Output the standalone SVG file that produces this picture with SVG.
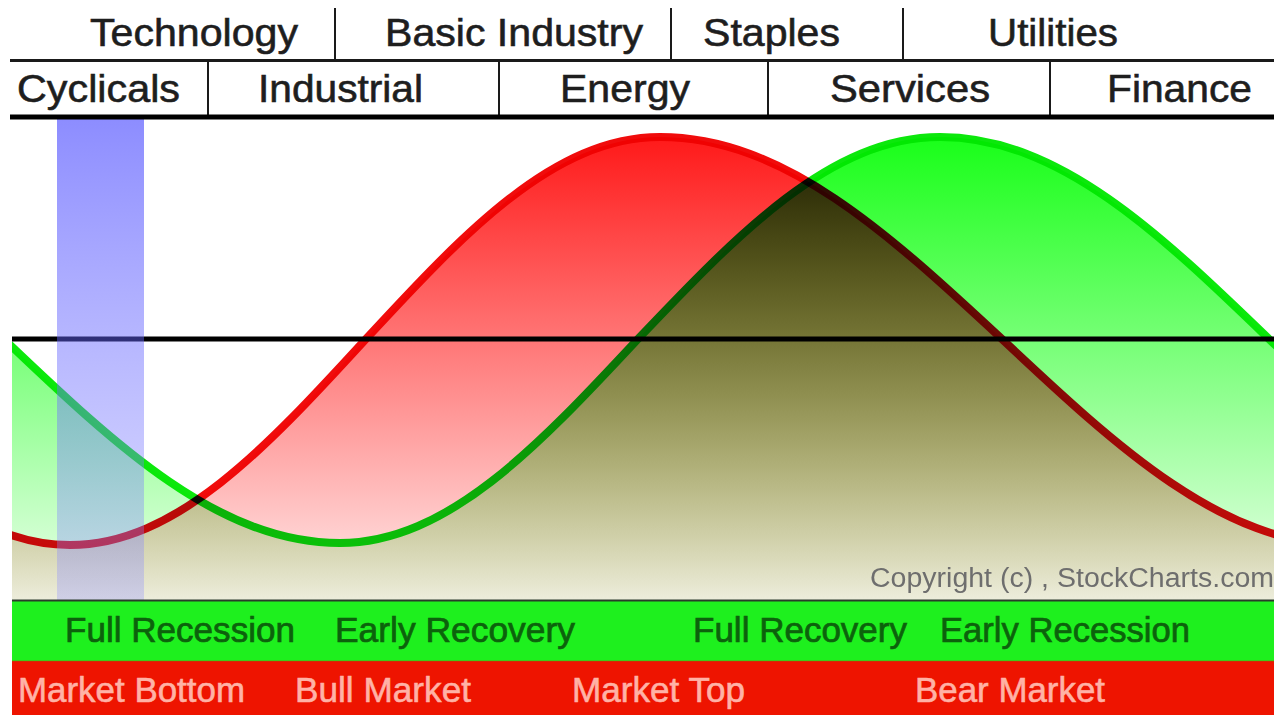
<svg xmlns="http://www.w3.org/2000/svg" width="1274" height="715" viewBox="0 0 1274 715">
  <style>
    .hdr { font-family: "Liberation Sans", Arial, sans-serif; font-size: 39px; fill: #1e1e1e; stroke: #1e1e1e; stroke-width: 0.6px; }
    .phase { font-family: "Liberation Sans", Arial, sans-serif; font-size: 35px; fill: #0c620c; stroke: #0c620c; stroke-width: 0.7px; }
    .mkt { font-family: "Liberation Sans", Arial, sans-serif; font-size: 35px; fill: #ffb2a6; stroke: #ffb2a6; stroke-width: 0.6px; }
    .copy { font-family: "Liberation Sans", Arial, sans-serif; font-size: 27px; fill: #6e6e6e; }
    .rule { stroke: #1a1a1a; fill: none; }
    .mul { mix-blend-mode: multiply; }
  </style>
  <defs>
    <linearGradient id="gRed" gradientUnits="userSpaceOnUse" x1="0" y1="130" x2="0" y2="640">
      <stop offset="0" stop-color="#ff1616"/>
      <stop offset="1" stop-color="#ffffff"/>
    </linearGradient>
    <linearGradient id="gGreen" gradientUnits="userSpaceOnUse" x1="0" y1="130" x2="0" y2="640">
      <stop offset="0" stop-color="#16ff16"/>
      <stop offset="1" stop-color="#ffffff"/>
    </linearGradient>
    <linearGradient id="gBar" gradientUnits="userSpaceOnUse" x1="0" y1="118" x2="0" y2="600">
      <stop offset="0" stop-color="#4040ff" stop-opacity="0.6"/>
      <stop offset="1" stop-color="#9090ff" stop-opacity="0.32"/>
    </linearGradient>
    <clipPath id="chartClip">
      <rect x="12" y="118" width="1262" height="482"/>
    </clipPath>
  </defs>

  <rect x="0" y="0" width="1274" height="715" fill="#ffffff"/>

  <g id="chart" clip-path="url(#chartClip)" style="isolation:isolate">
    <rect x="12" y="118" width="1262" height="482" fill="#ffffff"/>
    <path id="red-area" class="mul" fill="url(#gRed)" d="M -225,340 C -126.4,447.6 -36.3,545 70,545 C 176.3,545 266.4,447.6 365,340 C 463.6,233.4 553.7,137 660,137 C 783.5,137 888.3,233.4 1003,340 C 1117.7,447.6 1222.5,545 1346,545 L 1346,600 L -225,600 Z"/>
    <path id="green-area" class="mul" fill="url(#gGreen)" d="M -325,137 C -206.1,137 -105.3,233.4 5,340 C 117,446.6 219.3,543 340,543 C 447,543 537.7,446.6 637,340 C 738.3,233.4 830.9,137 940,137 C 1058.9,137 1159.7,233.4 1270,340 C 1382,446.6 1489.3,543 1605,543 L 1605,600 L -325,600 Z"/>
    <path id="red-curve" class="mul" fill="none" stroke="#f00c0c" stroke-width="8" d="M -225,340 C -126.4,447.6 -36.3,545 70,545 C 176.3,545 266.4,447.6 365,340 C 463.6,233.4 553.7,137 660,137 C 783.5,137 888.3,233.4 1003,340 C 1117.7,447.6 1222.5,545 1346,545"/>
    <path id="green-curve" class="mul" fill="none" stroke="#0ce80c" stroke-width="8" d="M -325,137 C -206.1,137 -105.3,233.4 5,340 C 117,446.6 219.3,543 340,543 C 447,543 537.7,446.6 637,340 C 738.3,233.4 830.9,137 940,137 C 1058.9,137 1159.7,233.4 1270,340 C 1382,446.6 1489.3,543 1605,543"/>
    <line id="midline" x1="12" y1="339" x2="1274" y2="339" stroke="#000000" stroke-width="5"/>
    <rect id="recession-bar" x="57" y="118" width="87" height="482" fill="url(#gBar)"/>
    <text class="copy" x="870" y="587" textLength="404" lengthAdjust="spacingAndGlyphs">Copyright (c) , StockCharts.com</text>
  </g>

  <g id="header">
    <line class="rule" x1="335" y1="8" x2="335" y2="60" stroke-width="2"/>
    <line class="rule" x1="671" y1="8" x2="671" y2="60" stroke-width="2"/>
    <line class="rule" x1="903" y1="8" x2="903" y2="60" stroke-width="2"/>
    <line class="rule" x1="10" y1="60.5" x2="1274" y2="60.5" stroke-width="3"/>
    <line class="rule" x1="208" y1="61" x2="208" y2="116" stroke-width="2"/>
    <line class="rule" x1="499" y1="61" x2="499" y2="116" stroke-width="2"/>
    <line class="rule" x1="768" y1="61" x2="768" y2="116" stroke-width="2"/>
    <line class="rule" x1="1050" y1="61" x2="1050" y2="116" stroke-width="2"/>
    <line x1="10" y1="117" x2="1274" y2="117" stroke="#000000" stroke-width="5"/>
    <text class="hdr" x="90" y="46" textLength="208" lengthAdjust="spacingAndGlyphs">Technology</text>
    <text class="hdr" x="385" y="46" textLength="258" lengthAdjust="spacingAndGlyphs">Basic Industry</text>
    <text class="hdr" x="703" y="46" textLength="137" lengthAdjust="spacingAndGlyphs">Staples</text>
    <text class="hdr" x="988" y="46" textLength="130" lengthAdjust="spacingAndGlyphs">Utilities</text>
    <text class="hdr" x="17" y="102" textLength="163" lengthAdjust="spacingAndGlyphs">Cyclicals</text>
    <text class="hdr" x="258" y="102" textLength="165" lengthAdjust="spacingAndGlyphs">Industrial</text>
    <text class="hdr" x="560" y="102" textLength="130" lengthAdjust="spacingAndGlyphs">Energy</text>
    <text class="hdr" x="830" y="102" textLength="160" lengthAdjust="spacingAndGlyphs">Services</text>
    <text class="hdr" x="1107" y="102" textLength="145" lengthAdjust="spacingAndGlyphs">Finance</text>
  </g>

  <g id="economy-band">
    <rect x="12" y="601" width="1262" height="60" fill="#1ef01e"/>
    <line x1="12" y1="600.5" x2="1274" y2="600.5" stroke="#2a3a2a" stroke-width="2"/>
    <text class="phase" x="65" y="642" textLength="230" lengthAdjust="spacingAndGlyphs">Full Recession</text>
    <text class="phase" x="335" y="642" textLength="240" lengthAdjust="spacingAndGlyphs">Early Recovery</text>
    <text class="phase" x="693" y="642" textLength="214" lengthAdjust="spacingAndGlyphs">Full Recovery</text>
    <text class="phase" x="940" y="642" textLength="250" lengthAdjust="spacingAndGlyphs">Early Recession</text>
  </g>

  <g id="market-band">
    <rect x="12" y="661" width="1262" height="54" fill="#ee1400"/>
    <line x1="12" y1="661" x2="1274" y2="661" stroke="#8a6a10" stroke-width="1" stroke-opacity="0.6"/>
    <text class="mkt" x="18" y="702" textLength="227" lengthAdjust="spacingAndGlyphs">Market Bottom</text>
    <text class="mkt" x="295" y="702" textLength="176" lengthAdjust="spacingAndGlyphs">Bull Market</text>
    <text class="mkt" x="572" y="702" textLength="173" lengthAdjust="spacingAndGlyphs">Market Top</text>
    <text class="mkt" x="915" y="702" textLength="190" lengthAdjust="spacingAndGlyphs">Bear Market</text>
  </g>
</svg>
